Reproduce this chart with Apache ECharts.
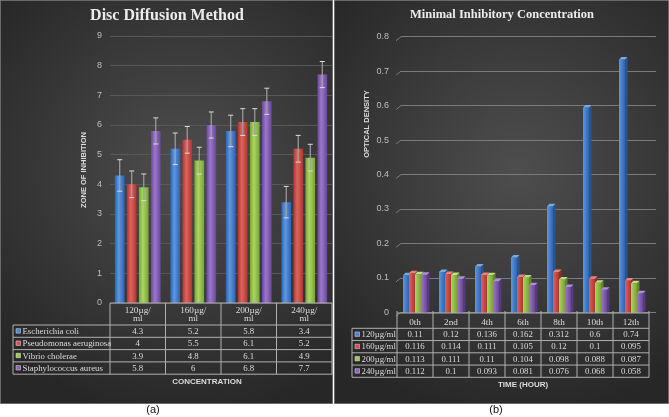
<!DOCTYPE html>
<html><head><meta charset="utf-8">
<script src="https://cdn.jsdelivr.net/npm/echarts@6/dist/echarts.min.js"></script>
<style>html,body{margin:0;padding:0;background:#fff}#c{width:669px;height:417px}</style>
</head><body><div id="c"></div><script>
// ---------- DATA (panel a) ----------
const concCategories = ['120µg/\nml', '160µg/\nml', '200µg/\nml', '240µg/\nml'];
const bacteria = ['Escherichia coli', 'Pseudomonas aeruginosa', 'Vibrio cholerae', 'Staphylococcus aureus'];
const ecoli = [4.3, 5.2, 5.8, 3.4];
const pseudomonas = [4, 5.5, 6.1, 5.2];
const vibrio = [3.9, 4.8, 6.1, 4.9];
const staph = [5.8, 6, 6.8, 7.7];
const ecoliErr = [0.53, 0.53, 0.53, 0.53];
const pseudomonasErr = [0.45, 0.45, 0.45, 0.45];
const vibrioErr = [0.45, 0.45, 0.45, 0.45];
const staphErr = [0.44, 0.44, 0.44, 0.44];
// ---------- DATA (panel b) ----------
const timeCategories = ['0th', '2nd', '4th', '6th', '8th', '10th', '12th'];
const doses = ['120µg/ml', '160µg/ml', '200µg/ml', '240µg/ml'];
const od120 = [0.11, 0.12, 0.136, 0.162, 0.312, 0.6, 0.74];
const od160 = [0.116, 0.114, 0.111, 0.105, 0.12, 0.1, 0.095];
const od200 = [0.113, 0.111, 0.11, 0.104, 0.098, 0.088, 0.087];
const od240 = [0.112, 0.1, 0.093, 0.081, 0.076, 0.068, 0.058];
const odTicks = [0, 0.1, 0.2, 0.3, 0.4, 0.5, 0.6, 0.7, 0.8];

// ---------- STYLE / LAYOUT ----------
const seriesA = [ecoli, pseudomonas, vibrio, staph];
const errA = [ecoliErr, pseudomonasErr, vibrioErr, staphErr];
const seriesB = [od120, od160, od200, od240];
const pal = [
  {dark: '#2c64b0', light: '#5c98e4', side: '#2a5592', top: '#7aaae6', key: '#4a86d8'},
  {dark: '#ac3633', light: '#e2625c', side: '#8e2e2b', top: '#e88480', key: '#d9514c'},
  {dark: '#78a334', light: '#acd663', side: '#648a2c', top: '#bfe07f', key: '#9cc94f'},
  {dark: '#6a4699', light: '#9c78cc', side: '#573a80', top: '#ae90d6', key: '#8a62bf'}
];
const gA = {left: 110, top: 36, width: 222, height: 267};
const gBwall = {left: 401, top: 36.7, width: 255, height: 275.6};
const gBbar = {left: 397, top: 39, width: 252, height: 274};
const catGapA = 0.175, barGapA = 0.24;
const catGapB = 0.335;
const serif = '"Liberation Serif", "Times New Roman", serif';
const sans = '"Liberation Sans", Arial, sans-serif';
const lineCol = '#b0b0b0';
const txtCol = '#dcdcdc';
const tblFont = '8.8px ' + serif;

function grad(p) {
  return new echarts.graphic.LinearGradient(0, 0, 1, 0, [
    {offset: 0, color: p.dark}, {offset: 0.4, color: p.light}, {offset: 1, color: p.dark}
  ]);
}

function errRender(idx) {
  return function (params, api) {
    const j = api.value(0), v = api.value(1), e = api.value(2);
    const band = api.size([1, 0])[0];
    const group = band * (1 - catGapA);
    const w = group / (4 + 3 * barGapA);
    const c = api.coord([j, v]);
    const cx = c[0] - group / 2 + idx * w * (1 + barGapA) + w / 2;
    const top = api.coord([j, v + e])[1], bot = api.coord([j, v - e])[1];
    const st = {stroke: '#dedede', lineWidth: 1};
    return {type: 'group', children: [
      {type: 'line', shape: {x1: cx, y1: top, x2: cx, y2: bot}, style: {stroke: '#a0a0a0', lineWidth: 1.2}},
      {type: 'line', shape: {x1: cx - 2.5, y1: top, x2: cx + 2.5, y2: top}, style: st},
      {type: 'line', shape: {x1: cx - 2.5, y1: bot, x2: cx + 2.5, y2: bot}, style: st}
    ]};
  };
}

function bar3dRender(idx) {
  return function (params, api) {
    const j = api.value(0), v = api.value(1);
    const band = api.size([1, 0])[0];
    const fw = band * (1 - catGapB) / 4;
    const c = api.coord([j, v]);
    const base = api.coord([j, 0])[1];
    const x0 = c[0] - 2 * fw + idx * fw;
    const top = c[1];
    const dx = 2.5, dy = -2.5;
    const p = pal[idx];
    return {type: 'group', children: [
      {type: 'polygon', shape: {points: [[x0 + fw, top], [x0 + fw + dx, top + dy], [x0 + fw + dx, base + dy], [x0 + fw, base]]}, style: {fill: p.side}},
      {type: 'rect', shape: {x: x0, y: top, width: fw, height: base - top}, style: {fill: new echarts.graphic.LinearGradient(0, 0, 1, 0, [
        {offset: 0, color: p.light}, {offset: 1, color: p.dark}])}},
      {type: 'polygon', shape: {points: [[x0, top], [x0 + dx, top + dy], [x0 + fw + dx, top + dy], [x0 + fw, top]]}, style: {fill: p.top}}
    ]};
  };
}

function slantRender(params, api) {
  const v = api.value(0);
  const y = api.coord([0, v])[1];
  const x = params.coordSys.x;
  return {type: 'line', shape: {x1: x - 5, y1: y + 4, x2: x, y2: y}, style: {stroke: '#7a7a7a', lineWidth: 1}};
}

// ---------- GRAPHICS (backgrounds, titles, tables) ----------
const gfx = [];
function panelBg(x, y, w, h) {
  gfx.push({type: 'rect', z: -10, shape: {x: x, y: y, width: w, height: h},
    style: {fill: new echarts.graphic.RadialGradient(0.55, 0.42, 0.75, [
      {offset: 0, color: '#4e4e4e'}, {offset: 1, color: '#272727'}]), stroke: '#6a6a6a', lineWidth: 1}});
}
panelBg(0.5, 0.5, 332, 403);
panelBg(334.5, 0.5, 334, 403);

function txt(x, y, s, opt) {
  gfx.push({type: 'text', z: 5, x: x, y: y,
    style: Object.assign({text: s, fill: txtCol, font: tblFont, textAlign: 'center', textVerticalAlign: 'middle'}, opt || {})});
}
function hline(x1, x2, y) { gfx.push({type: 'line', z: 5, shape: {x1: x1, y1: y, x2: x2, y2: y}, style: {stroke: lineCol, lineWidth: 1}}); }
function vline(x, y1, y2) { gfx.push({type: 'line', z: 5, shape: {x1: x, y1: y1, x2: x, y2: y2}, style: {stroke: lineCol, lineWidth: 1}}); }

// titles
txt(167, 16, 'Disc Diffusion Method', {font: 'bold 16px ' + serif, fill: '#ececec'});
txt(502, 15, 'Minimal Inhibitory Concentration', {font: 'bold 12.5px ' + serif, fill: '#ececec'});
// axis names
gfx.push({type: 'text', z: 5, x: 84, y: 170, rotation: Math.PI / 2,
  style: {text: 'ZONE OF INHIBITION', fill: txtCol, font: 'bold 7.5px ' + sans, textAlign: 'center', textVerticalAlign: 'middle'}});
gfx.push({type: 'text', z: 5, x: 367, y: 124, rotation: Math.PI / 2,
  style: {text: 'OPTICAL DENSITY', fill: txtCol, font: 'bold 7.5px ' + sans, textAlign: 'center', textVerticalAlign: 'middle'}});
txt(207, 382, 'CONCENTRATION', {font: 'bold 8px ' + sans});
txt(523, 385, 'TIME (HOUR)', {font: 'bold 8px ' + sans});
txt(153, 410, '(a)', {font: '11px ' + sans, fill: '#111'});
txt(496, 410, '(b)', {font: '11px ' + sans, fill: '#111'});

function table(cfg) {
  const n = cfg.cats;
  const cw = cfg.width / n;
  const right = cfg.left + cfg.width;
  const bottom = cfg.headBottom + cfg.rows.length * cfg.rowH;
  hline(cfg.left, right, cfg.axisY);
  for (let r = 0; r <= cfg.rows.length; r++) hline(cfg.labelLeft, right, cfg.headBottom + r * cfg.rowH);
  for (let k = 0; k <= n; k++) vline(cfg.left + k * cw, cfg.axisY - cfg.tickUp, bottom);
  vline(cfg.labelLeft, cfg.headBottom, bottom);
  cfg.rows.forEach(function (vals, r) {
    const cy = cfg.headBottom + (r + 0.5) * cfg.rowH;
    gfx.push({type: 'rect', z: 5, shape: {x: cfg.labelLeft + 3, y: cy - 2.5, width: 4.5, height: 4.5},
      style: {fill: pal[r].key, stroke: '#e0e0e0', lineWidth: 0.5}});
    txt(cfg.labelLeft + 9.5, cy + 0.5, cfg.names[r], {textAlign: 'left'});
    vals.forEach(function (v, k) { txt(cfg.left + (k + 0.5) * cw, cy + 0.5, String(v)); });
  });
}
table({left: gA.left, width: gA.width, cats: 4, axisY: 303, headBottom: 325, rowH: 12.3, labelLeft: 13, tickUp: 0, rows: seriesA, names: bacteria});
table({left: gBbar.left, width: gBbar.width, cats: 7, axisY: 313, headBottom: 328.3, rowH: 12.25, labelLeft: 352, tickUp: 2, rows: seriesB, names: doses});

// ---------- SERIES ----------
const series = [];
seriesA.forEach(function (d, i) {
  series.push({type: 'bar', name: bacteria[i], xAxisIndex: 0, yAxisIndex: 0, data: d,
    barCategoryGap: (catGapA * 100) + '%', barGap: (barGapA * 100) + '%', itemStyle: {color: grad(pal[i])}, z: 3});
});
errA.forEach(function (e, i) {
  series.push({type: 'custom', xAxisIndex: 0, yAxisIndex: 0, z: 4, renderItem: errRender(i),
    data: seriesA[i].map(function (v, j) { return [j, v, e[j]]; })});
});
series.push({type: 'custom', xAxisIndex: 1, yAxisIndex: 1, z: 2, renderItem: slantRender,
  encode: {x: -1, y: 0}, data: odTicks.map(function (t) { return [t]; })});
seriesB.forEach(function (d, i) {
  series.push({type: 'custom', name: doses[i], xAxisIndex: 2, yAxisIndex: 2, z: 3, renderItem: bar3dRender(i),
    data: d.map(function (v, j) { return [j, v]; })});
});

const chart = echarts.init(document.getElementById('c'), null, {renderer: 'canvas'});
chart.setOption({
  backgroundColor: '#ffffff',
  animation: false,
  grid: [
    Object.assign({containLabel: false}, gA),
    Object.assign({containLabel: false}, gBwall),
    Object.assign({containLabel: false}, gBbar)
  ],
  xAxis: [
    {type: 'category', gridIndex: 0, data: concCategories, axisLine: {show: false}, axisTick: {show: false},
      axisLabel: {color: txtCol, fontFamily: serif, fontSize: 9.2, lineHeight: 8.5, margin: 3}},
    {type: 'category', gridIndex: 1, data: timeCategories, show: false},
    {type: 'category', gridIndex: 2, data: timeCategories, axisLine: {show: false}, axisTick: {show: false},
      axisLabel: {color: txtCol, fontFamily: serif, fontSize: 9.2, margin: 5}}
  ],
  yAxis: [
    {type: 'value', gridIndex: 0, min: 0, max: 9, interval: 1, axisLine: {show: false}, axisTick: {show: false},
      axisLabel: {color: '#bdbdbd', fontFamily: sans, fontSize: 9, margin: 8},
      splitLine: {lineStyle: {color: '#585858', width: 1}}},
    {type: 'value', gridIndex: 1, min: 0, max: 0.8, interval: 0.1, axisLine: {show: false}, axisTick: {show: false},
      axisLabel: {color: '#bdbdbd', fontFamily: sans, fontSize: 9, margin: 12},
      splitLine: {lineStyle: {color: '#7a7a7a', width: 1}}},
    {type: 'value', gridIndex: 2, min: 0, max: 0.8, interval: 0.1, show: false, splitLine: {show: false}}
  ],
  graphic: {elements: gfx},
  series: series
});
</script></body></html>
